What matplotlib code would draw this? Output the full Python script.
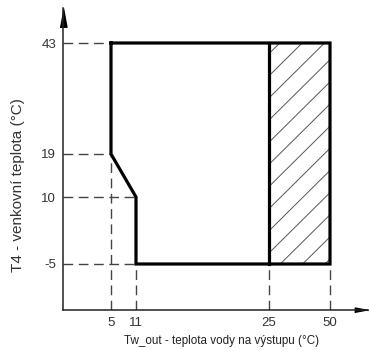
import numpy as np
import matplotlib
matplotlib.use('Agg')
import matplotlib.pyplot as plt
from matplotlib.patches import Rectangle

# ── data ──────────────────────────────────────────────────────────────────────
x_ticks = [5, 11, 25, 50]
y_ticks = [-5, 10, 19, 43]
# operating envelope (Tw_out, T4)
env_x = [5, 50, 50, 11, 11, 5, 5]
env_y = [43, 43, -5, -5, 10, 19, 43]
split_x = 25            # hatched zone from here to 50
x_label = 'Tw_out - teplota vody na výstupu (°C)'
y_label = 'T4 - venkovní teplota (°C)'

# ── non-linear axis mapping (tick positions are not to scale) ────────────────
xv = [0, 5, 11, 25, 50, 60]
xp = [63, 111, 136, 269, 330, 368]
yv = [-15, -5, 10, 19, 43, 52]
yp = [41, 87, 154, 197, 308, 343]

def fx(v): return np.interp(v, xv, xp)
def ix(p): return np.interp(p, xp, xv)
def fy(v): return np.interp(v, yv, yp)
def iy(p): return np.interp(p, yp, yv)

W, H = 370, 351
fig = plt.figure(figsize=(W / 100, H / 100), dpi=100)
ax = fig.add_axes([63 / W, 41 / H, (368 - 63) / W, (343 - 41) / H])
ax.set_xscale('function', functions=(fx, ix))
ax.set_yscale('function', functions=(fy, iy))
ax.set_xlim(xv[0], xv[-1])
ax.set_ylim(yv[0], yv[-1])

for s in ['top', 'right']:
    ax.spines[s].set_visible(False)
for s in ['left', 'bottom']:
    ax.spines[s].set_color('#222222')
    ax.spines[s].set_linewidth(1.1)

# arrow heads (tip at the axis end)
up = [(-0.37, -2), (0.37, -2), (0, 0)]
right = [(-2, -0.37), (-2, 0.37), (0, 0)]
ax.plot(0, 1, marker=up, color='black', ms=27, transform=ax.transAxes, clip_on=False)
ax.plot(1, 0, marker=right, color='black', ms=19, transform=ax.transAxes, clip_on=False)

# dashed guide lines
dash = dict(color='#444444', lw=1.0, dashes=(7, 4), zorder=1)
ax.plot([xv[0], 5], [43, 43], **dash)
ax.plot([xv[0], 5], [19, 19], **dash)
ax.plot([xv[0], 11], [10, 10], **dash)
ax.plot([xv[0], 11], [-5, -5], **dash)
ax.plot([5, 5], [yv[0], 19], **dash)
for xx in [11, 25, 50]:
    ax.plot([xx, xx], [yv[0], -5], **dash)

# hatched zone (manual diagonal lines, clipped)
rect = Rectangle((split_x, -5), 50 - split_x, 43 - (-5), fill=False, lw=0)
ax.add_patch(rect)
for c in np.arange(-1.0, 1.0, 22 / 300):
    xs = np.array([0, 1])
    ln, = ax.plot(xs, xs + c, color='#555555', lw=0.7, transform=ax.transAxes)
    ln.set_clip_path(rect)

ax.plot(env_x, env_y, color='black', lw=2.3, solid_joinstyle='miter', zorder=3)
ax.plot([split_x, split_x], [-5, 43], color='black', lw=2.3, zorder=3)

ax.set_xticks(x_ticks)
ax.set_xticklabels([str(t) for t in x_ticks])
ax.set_yticks(y_ticks)
ax.set_yticklabels([str(t) for t in y_ticks])
ax.minorticks_off()
ax.tick_params(length=0, pad=5, labelsize=9.5, labelcolor='#333333')
for t in ax.get_xticklabels() + ax.get_yticklabels():
    t.set_family(['Liberation Sans', 'DejaVu Sans'])

fig.text(221 / W, 1 - 341 / H, x_label, ha='center', va='center', fontsize=8.4,
         color='#222222', family=['Liberation Sans', 'DejaVu Sans'])
fig.text(18 / W, 1 - 185 / H, y_label, ha='center', va='center', rotation=90,
         fontsize=11, color='#333333', family=['Liberation Sans', 'DejaVu Sans'])

fig.savefig('out.png', dpi=100)
